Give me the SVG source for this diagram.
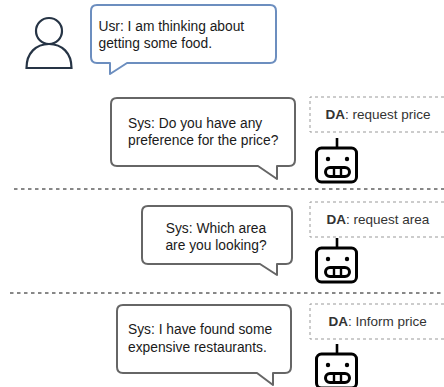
<svg xmlns="http://www.w3.org/2000/svg" xmlns:xlink="http://www.w3.org/1999/xlink" width="444" height="387" viewBox="0 0 444 387">
<style>
text{font-family:"Liberation Sans",Arial,sans-serif;font-size:13.8px;fill:#1a1a1a}
.bu{fill:#fff;stroke:#6c8ebf;stroke-width:2;stroke-linejoin:round}
.bs{fill:#fff;stroke:#666;stroke-width:2;stroke-linejoin:round}
.da{fill:#fff;stroke:#999;stroke-width:1;stroke-dasharray:3 3}
text.dt{fill:#333;font-size:13.5px}
.sep{stroke:#111;stroke-width:1;stroke-dasharray:3.5 3.5;fill:none}
.mid{text-anchor:middle}
</style>
<defs>
<g id="bot">
<path d="M23 0V9" fill="none" stroke="#000" stroke-width="2.6"/>
<rect x="2.500" y="10" width="40" height="34" rx="5" fill="#fff" stroke="#000" stroke-width="3"/>
<circle cx="14" cy="21" r="2.200" fill="#000"/>
<circle cx="33" cy="21" r="2.200" fill="#000"/>
<rect x="11.500" y="29.500" width="24" height="9" rx="4.500" fill="#fff" stroke="#000" stroke-width="3"/>
<path d="M20 29V39M27 29V39" stroke="#000" stroke-width="2.400"/>
</g>
</defs>
<g id="connectors">
<path class="sep" d="M14 189H444"/>
<path class="sep" d="M10 293H444"/>
</g>
<g id="user" fill="none" stroke="#263445" stroke-width="2.200">
<circle cx="49" cy="31" r="13"/>
<path d="M26.500 68C26.500 53 36 44 49 44S71.500 53 71.500 68Z"/>
</g>
<g id="usr-bubble">
<path class="bu" d="M97 5H270Q276 5 276 11V57Q276 63 270 63H127L110 74V63H97Q91 63 91 57V11Q91 5 97 5Z"/>
<text x="98.500" y="31">Usr: I am thinking about</text>
<text x="98.500" y="48">getting some food.</text>
</g>
<g id="sys1-bubble">
<path class="bs" d="M117 98H289Q295 98 295 104V160Q295 166 289 166H277V179L258 166H117Q111 166 111 160V104Q111 98 117 98Z"/>
<text x="128" y="128">Sys: Do you have any</text>
<text x="128" y="145">preference for the price?</text>
</g>
<g id="da1">
<path class="da" d="M444 97H310V132H444"/>
<text class="dt" x="325.500" y="118.500"><tspan font-weight="bold">DA</tspan>: request price</text>
</g>
<g id="bot1"><use xlink:href="#bot" href="#bot" x="314" y="138"/></g>
<g id="sys2-bubble">
<path class="bs" d="M148 206H286Q292 206 292 212V258Q292 264 286 264H277V275L260 264H148Q142 264 142 258V212Q142 206 148 206Z"/>
<text class="mid" x="216" y="232.500">Sys: Which area</text>
<text class="mid" x="216" y="249.500">are you looking?</text>
</g>
<g id="da2">
<path class="da" d="M444 202H310V237H444"/>
<text class="dt" x="326.500" y="223.500"><tspan font-weight="bold">DA</tspan>: request area</text>
</g>
<g id="bot2"><use xlink:href="#bot" href="#bot" x="314" y="238"/></g>
<g id="sys3-bubble">
<path class="bs" d="M123 305H285Q291 305 291 311V367Q291 373 285 373H273V385L257 373H123Q117 373 117 367V311Q117 305 123 305Z"/>
<text x="128" y="334">Sys: I have found some</text>
<text x="128" y="352">expensive restaurants.</text>
</g>
<g id="da3">
<path class="da" d="M444 304H310V339H444"/>
<text class="dt" x="328.500" y="325.500"><tspan font-weight="bold">DA</tspan>: Inform price</text>
</g>
<g id="bot3"><use xlink:href="#bot" href="#bot" x="314" y="344"/></g>
</svg>
